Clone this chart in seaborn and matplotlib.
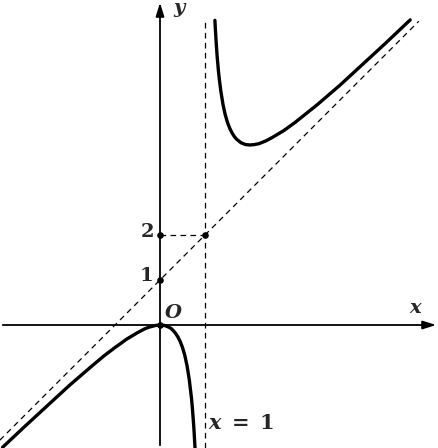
import matplotlib
matplotlib.use('Agg')
import matplotlib.pyplot as plt
import seaborn as sns
import pandas as pd

# 曲線の点
left_x = [-3.5, -3.0, -2.5, -2.0, -1.5, -1.25, -1.0, -0.9, -0.75, -0.6, -0.5, -0.35,
          -0.25, -0.1, 0.0, 0.1, 0.15, 0.2, 0.25, 0.3, 0.35, 0.4, 0.45, 0.5, 0.55,
          0.6, 0.65, 0.7, 0.72, 0.75, 0.76, 0.78]
left_y = [-2.72, -2.25, -1.79, -1.33, -0.9, -0.69, -0.5, -0.43, -0.32, -0.23, -0.17, -0.09,
          -0.05, -0.01, 0.0, -0.01, -0.03, -0.05, -0.08, -0.13, -0.19, -0.27, -0.37, -0.5, -0.67,
          -0.9, -1.21, -1.63, -1.85, -2.25, -2.41, -2.77]
right_x = [1.22, 1.23, 1.25, 1.27, 1.3, 1.32, 1.35, 1.4, 1.45, 1.5, 1.55, 1.6, 1.65,
           1.7, 1.8, 1.9, 2.0, 2.1, 2.2, 2.35, 2.5, 2.75, 3.0, 3.5, 4.0, 4.5, 5.0, 5.56]
right_y = [6.77, 6.58, 6.25, 5.97, 5.63, 5.45, 5.21, 4.9, 4.67, 4.5, 4.37, 4.27, 4.19,
           4.13, 4.05, 4.01, 4.0, 4.01, 4.03, 4.09, 4.17, 4.32, 4.5, 4.9, 5.33, 5.79, 6.25, 6.78]

# 漸近線と目盛り点
asym_x = [-3.56, 5.75]
asym_y = [-2.56, 6.75]
dot_x = [0, 0, 0, 1]
dot_y = [0, 1, 2, 2]
tick_labels = ['1', '2']

sns.set_style('white')
plt.rcParams['mathtext.fontset'] = 'custom'
plt.rcParams['mathtext.it'] = 'DejaVu Serif:italic:bold'
plt.rcParams['mathtext.rm'] = 'DejaVu Serif:bold'

fig = plt.figure(figsize=(4.39, 4.48), dpi=100)
ax = fig.add_axes([0, 0, 1, 1])
ax.set_xlim(-160 / 45, 279 / 45)
ax.set_ylim(-123 / 45, 325 / 45)
ax.axis('off')

# 軸
ax.annotate('', xy=(279 / 45, 0), xytext=(-160 / 45, 0),
            arrowprops=dict(arrowstyle='-|>,head_length=0.8,head_width=0.25', color='black', lw=1.3))
ax.annotate('', xy=(0, 325 / 45), xytext=(0, -123 / 45),
            arrowprops=dict(arrowstyle='-|>,head_length=0.8,head_width=0.25', color='black', lw=1.3))

# 破線
dash = dict(color='black', lw=0.9, ls=(0, (4.5, 3.5)))
ax.plot([1, 1], [-123 / 45, 6.78], **dash)
ax.plot([0, 1], [2, 2], **dash)
sns.lineplot(x=asym_x, y=asym_y, ax=ax, sort=False, estimator=None, **dash)

# 曲線
sns.lineplot(data=pd.DataFrame({'x': left_x, 'y': left_y}), x='x', y='y', ax=ax,
             sort=False, estimator=None, color='black', lw=2.4)
sns.lineplot(data=pd.DataFrame({'x': right_x, 'y': right_y}), x='x', y='y', ax=ax,
             sort=False, estimator=None, color='black', lw=2.4)

ax.scatter(dot_x, dot_y, s=14, color='black', zorder=5)

# 文字
fs = 14
ax.text(0.3, 7.0, '$y$', fontsize=fs, va='center', ha='left')
ax.text(5.69, 0.38, '$x$', fontsize=fs, va='center', ha='center')
ax.text(0.1, 0.28, '$O$', fontsize=fs, va='center', ha='left')
ax.text(-0.13, 2.07, '$\\mathrm{' + tick_labels[1] + '}$', fontsize=fs, va='center', ha='right')
ax.text(-0.17, 1.1, '$\\mathrm{' + tick_labels[0] + '}$', fontsize=fs, va='center', ha='right')
ax.text(1.07, -2.18, '$x\\;=\\;1$', fontsize=15, va='center', ha='left')

fig.savefig('out.png', dpi=100)
